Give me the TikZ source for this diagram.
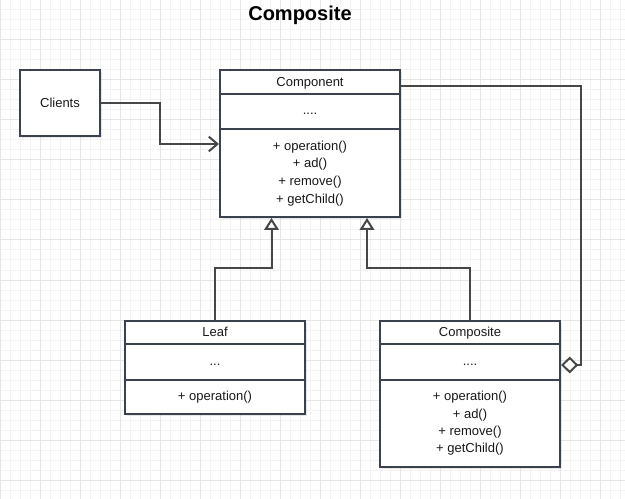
\documentclass[tikz,border=0pt]{standalone}
\usepackage{fontspec}
\setmainfont{Liberation Sans}
\usetikzlibrary{arrows.meta,shadows}
\definecolor{boxc}{HTML}{3A4250}
\definecolor{linec}{HTML}{474747}
\definecolor{gminor}{HTML}{F3F3F3}
\definecolor{gmajor}{HTML}{E6E6E6}
\begin{document}
\begin{tikzpicture}[x=0.75pt,y=-0.75pt,
  classbox/.style={draw=boxc, line width=1.5pt, fill=white, inner sep=0pt, rectangle,
    drop shadow={opacity=0.18, shadow xshift=1.2pt, shadow yshift=-1.2pt}},
  sepline/.style={draw=boxc, line width=1.5pt},
  txt/.style={font=\fontsize{9.75}{11.7}\selectfont, inner sep=0pt, text=black!90, anchor=base},
  titletxt/.style={font=\fontsize{15}{18}\selectfont\bfseries, inner sep=0pt, text=black, anchor=base},
  conn/.style={draw=linec, line width=1.5pt},
  assoc/.style={conn, -{Straight Barb[length=6.5pt, width=11pt, line width=1.5pt]}},
  inherit/.style={conn, -{Triangle[open, length=9pt, width=11pt, line width=1.5pt, fill=white]}},
  aggr/.style={conn, -{Diamond[open, length=13pt, width=12.5pt, line width=1.5pt, fill=white]}},
]
% background and grid
\fill[white] (0,0) rectangle (625,499);
\useasboundingbox (0,0) rectangle (625,499);
\foreach \gx in {0,10,...,620} \draw[gminor, line width=0.75pt] (\gx,0) -- (\gx,499);
\foreach \gy in {0,10,...,490} \draw[gminor, line width=0.75pt] (0,\gy) -- (625,\gy);
\foreach \gx in {0,40,...,600} \draw[gmajor, line width=0.75pt] (\gx,0) -- (\gx,499);
\foreach \gy in {0,40,...,480} \draw[gmajor, line width=0.75pt] (0,\gy) -- (625,\gy);

% title
\node[titletxt] (title) at (300,20.5) {Composite};

% boxes
\node[classbox, minimum width=60pt, minimum height=49.5pt] (clients) at (60,103) {};
\node[classbox, minimum width=135pt, minimum height=110.25pt] (comp) at (310,143.5) {};
\node[classbox, minimum width=135pt, minimum height=69.75pt] (leaf) at (215,367.5) {};
\node[classbox, minimum width=135pt, minimum height=109.5pt] (compo) at (470,394) {};

% separators
\coordinate (s1) at (0,94);
\coordinate (s2) at (0,129.5);
\coordinate (s3) at (0,344);
\coordinate (s4) at (0,379.5);
\draw[sepline] (comp.west |- s1) -- (comp.east |- s1);
\draw[sepline] (comp.west |- s2) -- (comp.east |- s2);
\draw[sepline] (leaf.west |- s3) -- (leaf.east |- s3);
\draw[sepline] (leaf.west |- s4) -- (leaf.east |- s4);
\draw[sepline] (compo.west |- s3) -- (compo.east |- s3);
\draw[sepline] (compo.west |- s4) -- (compo.east |- s4);

% texts
\node[txt] (clientst) at (60,107.2) {Clients};
\node[txt] (compt) at (310,86.2) {Component};
\node[txt] (compa) at (310,115) {....};
\node[txt] (compm1) at (310,150.2) {+ operation()};
\node[txt] (compm2) at (310,167.8) {+ ad()};
\node[txt] (compm3) at (310,185.5) {+ remove()};
\node[txt] (compm4) at (310,203.2) {+ getChild()};
\node[txt] (leaft) at (215,336.2) {Leaf};
\node[txt] (leafa) at (215,365) {...};
\node[txt] (leafm1) at (215,400.5) {+ operation()};
\node[txt] (compot) at (470,336.2) {Composite};
\node[txt] (compoa) at (470,365) {....};
\node[txt] (compom1) at (470,400.5) {+ operation()};
\node[txt] (compom2) at (470,418.2) {+ ad()};
\node[txt] (compom3) at (470,435.5) {+ remove()};
\node[txt] (compom4) at (470,452.8) {+ getChild()};

% connectors
\coordinate (c1) at (160,144);
\draw[assoc] (clients.east) -| (c1) -- (comp.west |- c1);

\coordinate (j1) at (271.5,268);
\draw[inherit] (leaf.north) |- (j1) -- (comp.south -| j1);

\coordinate (j2) at (367,268);
\draw[inherit] (compo.north) |- (j2) -- (comp.south -| j2);

\coordinate (a0) at (580.5,86);
\coordinate (a1) at (0,365);
\draw[aggr] (comp.east |- a0) -- (a0) |- (compo.east |- a1);
\end{tikzpicture}
\end{document}
